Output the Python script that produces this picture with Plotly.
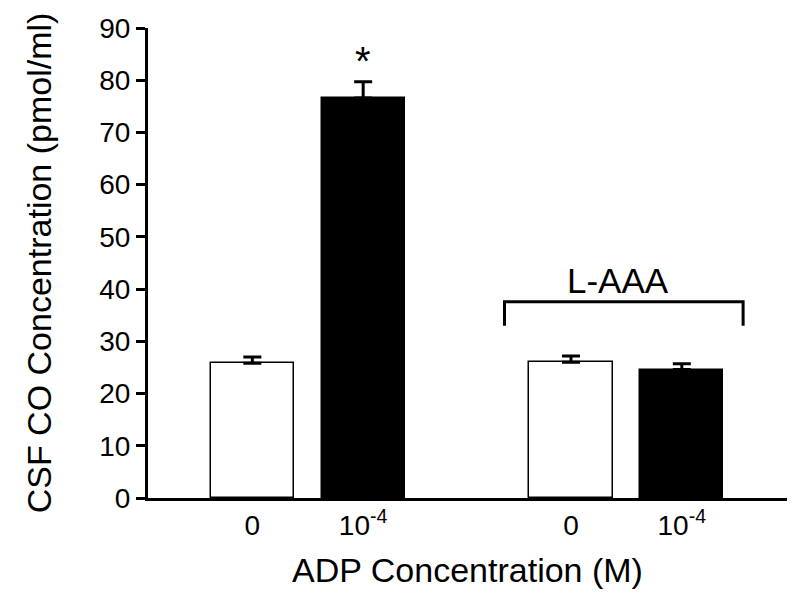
import plotly.graph_objects as go

# Data
groups = ["Control", "L-AAA"]
tick_labels = ["0", "10<sup>-4</sup>", "0", "10<sup>-4</sup>"]
values = [25.8, 76.6, 26.0, 24.6]
errors = [1.2, 3.1, 1.2, 1.1]
fill_colors = ["white", "black", "white", "black"]

# Layout positions (x-units)
positions = [1, 2, 3.875, 4.875]

FONT = "Liberation Sans, Arial, sans-serif"

fig = go.Figure()
fig.add_trace(go.Bar(
    x=positions,
    y=values,
    width=0.75,
    marker=dict(color=fill_colors, line=dict(color="black", width=1.5)),
    error_y=dict(type="data", symmetric=False, array=errors,
                 arrayminus=[0] * len(errors), color="black",
                 thickness=3, width=9),
    showlegend=False,
))

# Significance marker
fig.add_annotation(x=positions[1], y=values[1] + errors[1], text="*",
                   showarrow=False, yanchor="bottom", yshift=-3,
                   font=dict(size=40, color="black", family=FONT))

# L-AAA bracket
bx0, bx1, by_top, by_bot = 3.275, 5.428, 37.6, 33.0
fig.add_shape(type="path",
              path=f"M {bx0} {by_bot} L {bx0} {by_top} L {bx1} {by_top} L {bx1} {by_bot}",
              line=dict(color="black", width=3), xref="x", yref="y")
fig.add_annotation(x=(bx0 + bx1) / 2 - 0.05, y=by_top, text="L-AAA",
                   showarrow=False, yanchor="bottom", yshift=0,
                   font=dict(size=35, color="black", family=FONT))

fig.update_layout(
    width=784, height=581,
    margin=dict(l=140, r=5, t=17, b=89),
    plot_bgcolor="white", paper_bgcolor="white",
    font=dict(family=FONT, color="black"),
    bargap=0,
)
fig.update_xaxes(
    range=[0.0586, 5.824],
    tickmode="array", tickvals=positions, ticktext=tick_labels,
    tickfont=dict(size=28, family=FONT),
    showline=True, linecolor="black", linewidth=3,
    ticks="", showgrid=False, zeroline=False,
    title=dict(text="ADP Concentration (M)", font=dict(size=34, family=FONT), standoff=20),
)
fig.update_yaxes(
    range=[0, 90], tickmode="array", tickvals=list(range(0, 91, 10)),
    tickfont=dict(size=28, family=FONT),
    showline=True, linecolor="black", linewidth=3,
    ticks="outside", ticklen=9, tickwidth=3, tickcolor="black",
    showgrid=False, zeroline=False,
    title=dict(text="CSF CO Concentration (pmol/ml)", font=dict(size=34, family=FONT), standoff=38),
)

fig.write_html("out.html")
